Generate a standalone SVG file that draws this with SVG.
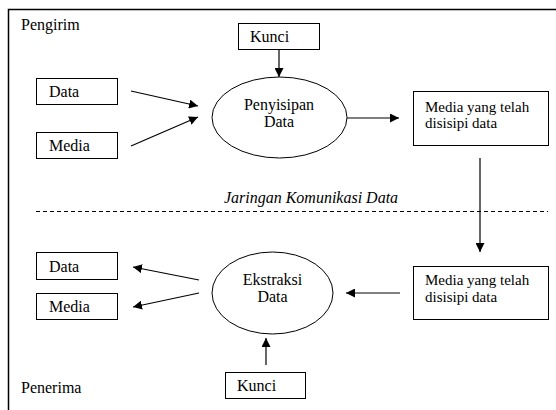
<svg xmlns="http://www.w3.org/2000/svg" width="556" height="410" viewBox="0 0 556 410">
<style>
.t{font-family:'Liberation Serif','Times New Roman',serif;font-size:16px;fill:#000}
.s{font-size:15px}
.box{fill:#fff;stroke:#000;stroke-width:1}
.ell{fill:#fff;stroke:#000;stroke-width:1}
.ln{stroke:#000;stroke-width:1.2;fill:none}
</style>
<defs>
<marker id="ah" viewBox="0 0 10 10" refX="10" refY="5" markerWidth="9" markerHeight="9" markerUnits="userSpaceOnUse" orient="auto">
<path d="M0,0L10,5L0,10z" fill="#000"/>
</marker>
</defs>
<rect width="556" height="410" fill="#fff"/>
<path d="M8.5,420V9.5H560" stroke="#000" stroke-width="1.5" fill="none"/>
<text class="t" x="21" y="30">Pengirim</text>
<text class="t" x="21" y="393">Penerima</text>
<text class="t" x="311" y="203" text-anchor="middle" font-style="italic">Jaringan Komunikasi Data</text>
<line x1="36" y1="211.5" x2="548" y2="211.5" stroke="#000" stroke-width="1" stroke-dasharray="4,3"/>
<g id="connectors">
<line class="ln" x1="279" y1="49" x2="279" y2="77" marker-end="url(#ah)"/>
<line class="ln" x1="131" y1="91" x2="198" y2="106" marker-end="url(#ah)"/>
<line class="ln" x1="131" y1="146" x2="198" y2="117" marker-end="url(#ah)"/>
<line class="ln" x1="347" y1="118" x2="399" y2="118" marker-end="url(#ah)"/>
<line class="ln" x1="480" y1="158" x2="480" y2="252" marker-end="url(#ah)"/>
<line class="ln" x1="400" y1="293" x2="346" y2="293" marker-end="url(#ah)"/>
<line class="ln" x1="199" y1="280" x2="133" y2="267" marker-end="url(#ah)"/>
<line class="ln" x1="199" y1="293" x2="133" y2="307" marker-end="url(#ah)"/>
<line class="ln" x1="266" y1="365" x2="266" y2="338" marker-end="url(#ah)"/>
</g>
<g id="kunci1"><rect class="box" x="238.5" y="23.5" width="81" height="26"/><text class="t" x="250" y="42">Kunci</text></g>
<g id="data1"><rect class="box" x="36.5" y="78.5" width="81" height="26"/><text class="t" x="49" y="97">Data</text></g>
<g id="media1"><rect class="box" x="36.5" y="132.5" width="81" height="26"/><text class="t" x="49" y="151">Media</text></g>
<g id="penyisipan"><ellipse class="ell" cx="279.5" cy="117.5" rx="67.5" ry="40.5"/><text class="t" x="279" y="110" text-anchor="middle">Penyisipan</text><text class="t" x="279" y="127" text-anchor="middle">Data</text></g>
<g id="mediaout"><rect class="box" x="413.5" y="91.5" width="135" height="54"/><text class="t s" x="425" y="112">Media yang telah</text><text class="t s" x="425" y="128">disisipi data</text></g>
<g id="mediain"><rect class="box" x="413.5" y="266.5" width="135" height="53"/><text class="t s" x="425" y="285">Media yang telah</text><text class="t s" x="425" y="302">disisipi data</text></g>
<g id="ekstraksi"><ellipse class="ell" cx="272.5" cy="293" rx="60.5" ry="41"/><text class="t" x="272.5" y="285" text-anchor="middle">Ekstraksi</text><text class="t" x="272.5" y="302" text-anchor="middle">Data</text></g>
<g id="data2"><rect class="box" x="36.5" y="252.5" width="81" height="27"/><text class="t" x="49" y="272">Data</text></g>
<g id="media2"><rect class="box" x="36.5" y="293.5" width="81" height="26"/><text class="t" x="49" y="312">Media</text></g>
<g id="kunci2"><rect class="box" x="225.5" y="372.5" width="80" height="26"/><text class="t" x="237" y="391">Kunci</text></g>
</svg>
